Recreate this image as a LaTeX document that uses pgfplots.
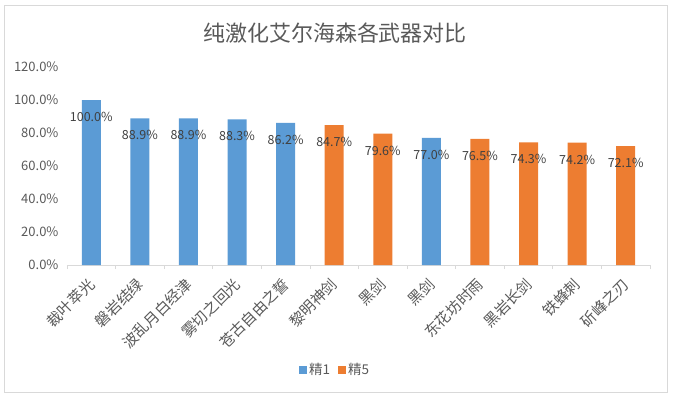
\documentclass[border=0pt]{standalone}
\usepackage{pgfplots}
\pgfplotsset{compat=1.18}
\usepackage{fontspec}
\setmainfont{Noto Sans CJK SC}
\definecolor{blue1}{HTML}{5B9BD5}
\definecolor{orange5}{HTML}{ED7D31}
\definecolor{txtgray}{HTML}{595959}
\definecolor{lblgray}{HTML}{404040}
\definecolor{linegray}{HTML}{D9D9D9}
\pgfplotsset{mylegend/.style={legend image code/.code={\fill[##1,draw=none] (0pt,-4pt) rectangle (8pt,4pt);}}}
\begin{document}
\begin{tikzpicture}
\path[use as bounding box] (-67pt,-132pt) rectangle (606pt,265pt);
\draw[linegray, line width=0.8pt] (-63pt,-127pt) rectangle (600pt,260pt);
\node[font=\fontsize{22}{25}\selectfont, text=txtgray] at (268pt,232pt) {纯激化艾尔海森各武器对比};
\begin{axis}[
 at={(0pt,0pt)}, anchor=south west,
 scale only axis, width=583pt, height=198pt,
 xmin=-0.5, xmax=11.5, ymin=0, ymax=120,
 ybar, bar width=19pt, bar shift=0pt,
 axis lines*=left,
 y axis line style={draw=none},
 x axis line style={draw=linegray, line width=0.8pt, -},
 ytick={0,20,...,120},
 ytick style={draw=none},
 xtick={0,...,11},
 xticklabels={裁叶萃光,磐岩结绿,波乱月白经津,雾切之回光,苍古自由之誓,黎明神剑,黑剑,黑剑,东花坊时雨,黑岩长剑,铁蜂刺,斫峰之刃},
 major x tick style={draw=none},
 minor xtick={-0.5,0.5,...,11.5},
 minor x tick style={draw=linegray, line width=0.8pt},
 minor tick length=4pt,
 xtick align=outside,
 /pgf/number format/assume math mode=true,
 yticklabel={\pgfmathprintnumber[fixed,fixed zerofill,precision=1]{\tick}\%},
 yticklabel style={font=\fontsize{13}{15}\selectfont, text=txtgray, xshift=-5pt},
 xticklabel style={font=\fontsize{15}{17}\selectfont, text=txtgray, rotate=45, anchor=east, xshift=-5pt, yshift=-9pt},
 nodes near coords={\pgfmathprintnumber[fixed,fixed zerofill,precision=1]{\pgfplotspointmeta}\%},
 nodes near coords style={anchor=center, yshift=-17pt, font=\fontsize{12.5}{14}\selectfont, text=lblgray},
 legend style={at={(0.4597,-0.530)}, anchor=center, legend columns=2, draw=none, fill=none,
   font=\fontsize{13.5}{15}\selectfont, text=txtgray,
   /tikz/every even column/.append style={column sep=6pt}},
]
\addplot[fill=blue1, draw=none, mylegend] coordinates {(0,100.0) (1,88.9) (2,88.9) (3,88.3) (4,86.2) (7,77.0)};
\addlegendentry{精1}
\addplot[fill=orange5, draw=none, mylegend] coordinates {(5,84.7) (6,79.6) (8,76.5) (9,74.3) (10,74.2) (11,72.1)};
\addlegendentry{精5}
\end{axis}
\end{tikzpicture}
\end{document}
